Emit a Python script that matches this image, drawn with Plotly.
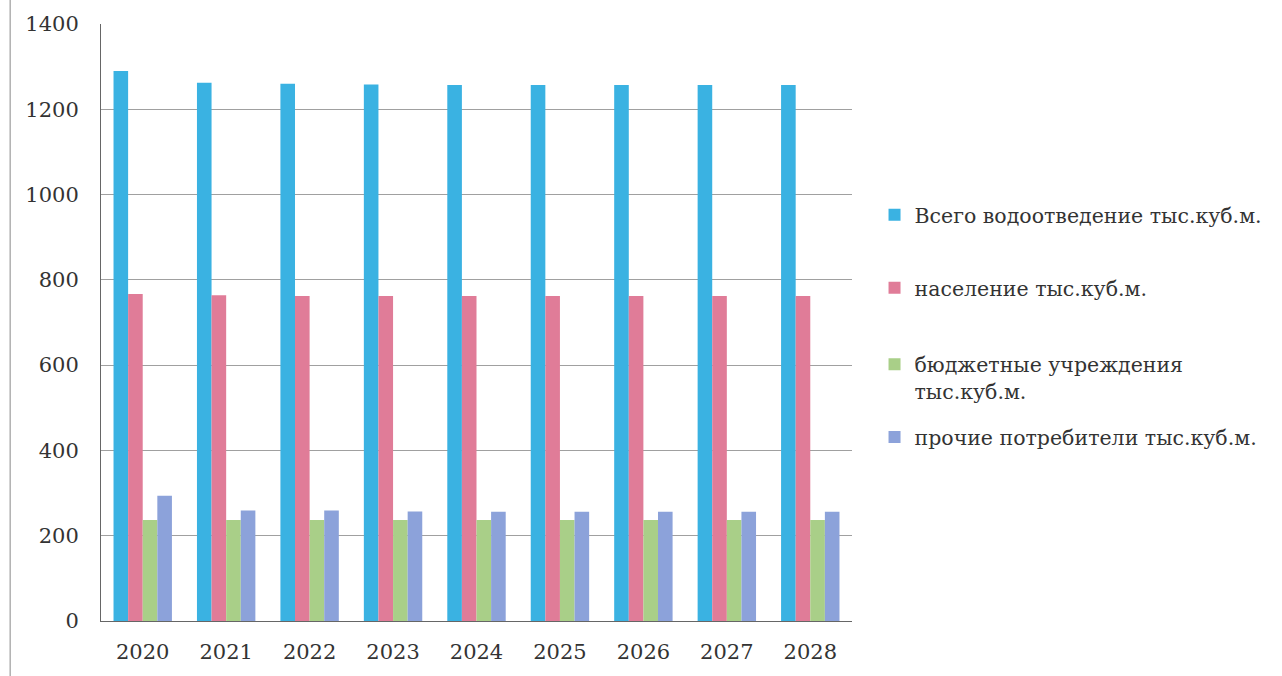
import plotly.graph_objects as go

years = ["2020", "2021", "2022", "2023", "2024", "2025", "2026", "2027", "2028"]
total = [1290, 1262, 1260, 1258, 1257, 1257, 1257, 1257, 1257]
population = [767, 764, 762, 762, 762, 762, 762, 762, 762]
budget = [237, 237, 237, 237, 237, 237, 237, 237, 237]
others = [294, 259, 259, 257, 256, 256, 256, 256, 256]

names = ["Всего водоотведение тыс.куб.м.", "население тыс.куб.м.",
         "бюджетные учреждения<br>тыс.куб.м.", "прочие потребители тыс.куб.м."]
colors = ["#3AB2E2", "#E07C98", "#A9CF88", "#8CA2DA"]
series = [total, population, budget, others]

FONT = "DejaVu Serif"
legend_ids = ["legend", "legend2", "legend3", "legend4"]
legend_y = [0.680, 0.558, 0.407, 0.308]

fig = go.Figure()
for i, (n, c, s) in enumerate(zip(names, colors, series)):
    fig.add_trace(go.Bar(x=years, y=s, name=n, marker=dict(color=c, line=dict(width=0)),
                         legend=legend_ids[i]))

layout_legends = {}
for lid, ly in zip(legend_ids, legend_y):
    layout_legends[lid] = dict(x=1.03, y=ly, xanchor="left", yanchor="middle",
                               font=dict(family=FONT, size=20.5, color="#333333"),
                               itemwidth=30, bgcolor="rgba(0,0,0,0)", valign="top")

fig.update_layout(
    width=1282, height=676,
    margin=dict(l=101, r=430, t=24, b=55),
    paper_bgcolor="white", plot_bgcolor="white",
    barmode="group", bargap=0.3, bargroupgap=0,
    font=dict(family=FONT, size=21, color="#333333"),
    showlegend=True,
    xaxis=dict(showgrid=False, showline=True, linecolor="#666666", linewidth=1,
               ticks="", ticklabelstandoff=12, automargin=False,
               tickfont=dict(size=21, family=FONT)),
    yaxis=dict(range=[0, 1400], dtick=200, showgrid=True, gridcolor="#a0a0a0",
               gridwidth=1, showline=True, linecolor="#666666", linewidth=1,
               ticks="", ticklabelstandoff=17, automargin=False,
               tickfont=dict(size=21, family=FONT), zeroline=False),
    shapes=[dict(type="line", xref="paper", yref="paper", x0=-0.121, x1=-0.121,
                 y0=-0.1, y1=1.05, line=dict(color="#888888", width=1))],
    **layout_legends,
)

fig.write_html("out.html")
